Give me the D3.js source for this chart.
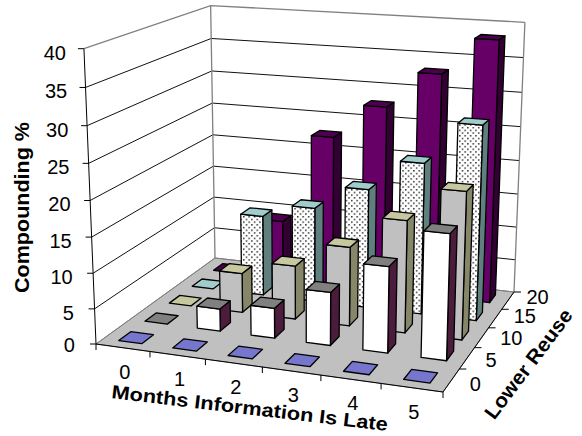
<!DOCTYPE html>
<html>
<head>
<meta charset="utf-8">
<script src="https://cdnjs.cloudflare.com/ajax/libs/d3/7.8.5/d3.min.js"></script>
<style>
html,body{margin:0;padding:0;background:#fff}
svg{display:block}
text{font-family:"Liberation Sans",Arial,sans-serif;fill:#000}
</style>
</head>
<body>
<svg id="chart" width="582" height="436"></svg>
<script>
// Chart data: compounding % per lateness month and reuse level
const months = ["0","1","2","3","4","5"];
const reuseLevels = ["0","5","10","15","20"];
const compoundTicks = [0,5,10,15,20,25,30,35,40];
const reuse0  = [0,0,0,0,0,0];
const reuse5  = [0,3.2,4.3,7.5,12,17.3];
const reuse10 = [0,5.8,7.8,11.4,16,20.8];
const reuse15 = [0,12,14,17.5,22,28];
const reuse20 = [0,9,22.6,27.7,33,38.3];
const seriesValues = [reuse0,reuse5,reuse10,reuse15,reuse20];
const seriesFront = ["#8080d8","#ffffff","#c0c0c0","url(#dots)","#660066"];
const seriesTop   = ["#7676cc","#808080","#c8c8a0","#a0cccc","#4d004d"];
const seriesSide  = ["#5a5a90","#4c1c3c","#868668","#608080","#330033"];

// Perspective frame: floor corners and the tops of three wall edges
const floorFL=[96,344], floorFR=[443,392], floorBR=[514,292], floorBL=[215,258];
const topFL=[84,48], topBL=[210.5,6], topBR=[525,22.5];

function solve(A,b){
  const n=b.length, M=A.map((r,i)=>[...r,b[i]]);
  for(let i=0;i<n;i++){
    let p=i;
    for(let k=i+1;k<n;k++) if(Math.abs(M[k][i])>Math.abs(M[p][i])) p=k;
    [M[i],M[p]]=[M[p],M[i]];
    for(let k=0;k<n;k++){
      if(k===i) continue;
      const f=M[k][i]/M[i][i];
      for(let j=i;j<=n;j++) M[k][j]-=f*M[i][j];
    }
  }
  return M.map((r,i)=>r[n]/r[i]);
}
// Floor homography from (u,v) in the unit square
const corners=[[0,0,floorFL],[1,0,floorFR],[1,1,floorBR],[0,1,floorBL]];
const A8=[],b8=[];
corners.forEach(([u,v,[x,y]])=>{
  A8.push([u,v,1,0,0,0,-u*x,-v*x]); b8.push(x);
  A8.push([0,0,0,u,v,1,-u*y,-v*y]); b8.push(y);
});
const H=solve(A8,b8);
const floorH=(u,v)=>[H[0]*u+H[1]*v+H[2],H[3]*u+H[4]*v+H[5],H[6]*u+H[7]*v+1];
// Height column of the projection, least squares on the three wall tops
const rows=[],rhs=[];
[[0,0,topFL],[0,1,topBL],[1,1,topBR]].forEach(([u,v,[x,y]])=>{
  const [X,Y,W]=floorH(u,v);
  rows.push([1,0,-x]); rhs.push(x*W-X);
  rows.push([0,1,-y]); rhs.push(y*W-Y);
});
const AtA=[0,1,2].map(i=>[0,1,2].map(j=>d3.sum(rows,r=>r[i]*r[j])));
const Atb=[0,1,2].map(i=>d3.sum(rows,(r,k)=>r[i]*rhs[k]));
const V=solve(AtA,Atb);
function project(u,v,h){
  const [X,Y,W]=floorH(u,v), w=W+h*V[2];
  return [(X+h*V[0])/w,(Y+h*V[1])/w];
}

const xBand=d3.scaleBand().domain(months).range([0,1]).paddingInner(0.57).paddingOuter(0.285);
const zBand=d3.scaleBand().domain(reuseLevels).range([0,1]).paddingInner(0.55).paddingOuter(0.275);
const xStep=d3.scaleLinear().domain([0,months.length]).range([0,1]);
const zStep=d3.scaleLinear().domain([0,reuseLevels.length]).range([0,1]);
const hScale=d3.scaleLinear().domain([0,40]).range([0,1]);

const svg=d3.select("#chart");
const line=d3.line();
const poly=pts=>line(pts)+"Z";

const pat=svg.append("defs").append("pattern").attr("id","dots")
  .attr("width",5.4).attr("height",5.4).attr("patternUnits","userSpaceOnUse");
pat.append("rect").attr("width",5.4).attr("height",5.4).attr("fill","#fff");
pat.append("rect").attr("x",0).attr("y",0).attr("width",1.5).attr("height",1.5).attr("fill","#333");
pat.append("rect").attr("x",2.7).attr("y",2.7).attr("width",1.5).attr("height",1.5).attr("fill","#333");

// Floor
svg.append("path").attr("d",poly([project(0,0,0),project(1,0,0),project(1,1,0),project(0,1,0)]))
  .attr("fill","#c0c0c0").attr("stroke","#808080").attr("stroke-width",1);

// Gridlines along both back walls
const grid=svg.append("g").attr("fill","none");
compoundTicks.forEach(t=>{
  const h=hScale(t);
  grid.append("path").attr("d",line([project(0,0,h),project(0,1,h),project(1,1,h)]))
    .attr("stroke",t===40||t===0?"#808080":"#111").attr("stroke-width",t===40?1.3:1);
});
grid.append("path").attr("d",line([project(0,1,0),project(0,1,1)])).attr("stroke","#808080").attr("stroke-width",1.3);
grid.append("path").attr("d",line([project(1,1,0),project(1,1,1)])).attr("stroke","#808080").attr("stroke-width",1.3);

// Axis lines and tick marks
const axes=svg.append("g").attr("stroke","#000").attr("fill","none").attr("stroke-width",1);
axes.append("path").attr("d",line([project(0,0,0),project(0,0,1)]));
axes.append("path").attr("d",line([project(0,0,0),project(1,0,0)]));
axes.append("path").attr("d",line([project(1,0,0),project(1,1,0)]));
compoundTicks.forEach(t=>{
  const p=project(0,0,hScale(t));
  axes.append("path").attr("d",line([p,[p[0]-6,p[1]]]));
});
d3.range(months.length+1).forEach(i=>{
  const p=project(xStep(i),0,0);
  axes.append("path").attr("d",line([p,[p[0],p[1]+6]]));
});
d3.range(1,reuseLevels.length+1).forEach(i=>{
  const p=project(1,zStep(i),0);
  axes.append("path").attr("d",line([p,[p[0]+7,p[1]]]));
});

// Bars, painted from the back row forward and from left to right
const bars=svg.append("g").attr("stroke","#000").attr("stroke-width",1.3).attr("stroke-linejoin","round");
d3.range(reuseLevels.length-1,-1,-1).forEach(s=>{
  months.forEach((m,i)=>{
    const u0=xBand(m),u1=u0+xBand.bandwidth();
    const v0=zBand(reuseLevels[s]),v1=v0+zBand.bandwidth();
    const h=hScale(seriesValues[s][i]);
    if(h>0){
      bars.append("path").attr("d",poly([project(u1,v0,0),project(u1,v1,0),project(u1,v1,h),project(u1,v0,h)])).attr("fill",seriesSide[s]);
      bars.append("path").attr("d",poly([project(u0,v0,0),project(u1,v0,0),project(u1,v0,h),project(u0,v0,h)])).attr("fill",seriesFront[s]);
    }
    bars.append("path").attr("d",poly([project(u0,v0,h),project(u1,v0,h),project(u1,v1,h),project(u0,v1,h)])).attr("fill",seriesTop[s]);
  });
});

// Tick labels
const labels=svg.append("g").attr("font-size",20).attr("text-anchor","middle");
compoundTicks.forEach(t=>{
  const p=project(0,0,hScale(t));
  labels.append("text").attr("x",p[0]-18-(40-t)*0.08).attr("y",p[1]+(t===0?8:11)).attr("text-anchor","end").text(t);
});
months.forEach((m,i)=>{
  const p=project(xStep(i+0.5),0,0);
  labels.append("text").attr("x",p[0]+2).attr("y",p[1]+31).text(m);
});
reuseLevels.forEach((r,i)=>{
  const p=project(1,zStep(i+0.5),0);
  labels.append("text").attr("x",p[0]+18.5).attr("y",p[1]+11-2*i).attr("text-anchor","start").text(r);
});

// Axis titles
const title=(x,y,rot,size,len,txt)=>svg.append("text")
  .attr("transform",`translate(${x},${y}) rotate(${rot})`)
  .attr("text-anchor","middle").attr("font-weight","bold").attr("font-size",size)
  .attr("textLength",len).attr("lengthAdjust","spacingAndGlyphs").text(txt);
title(29,207.5,-90,19.5,171,"Compounding %");
title(249,414.5,6.8,19,278,"Months Information Is Late");
title(534,368,-53,20,132,"Lower Reuse");
</script>
</body>
</html>
